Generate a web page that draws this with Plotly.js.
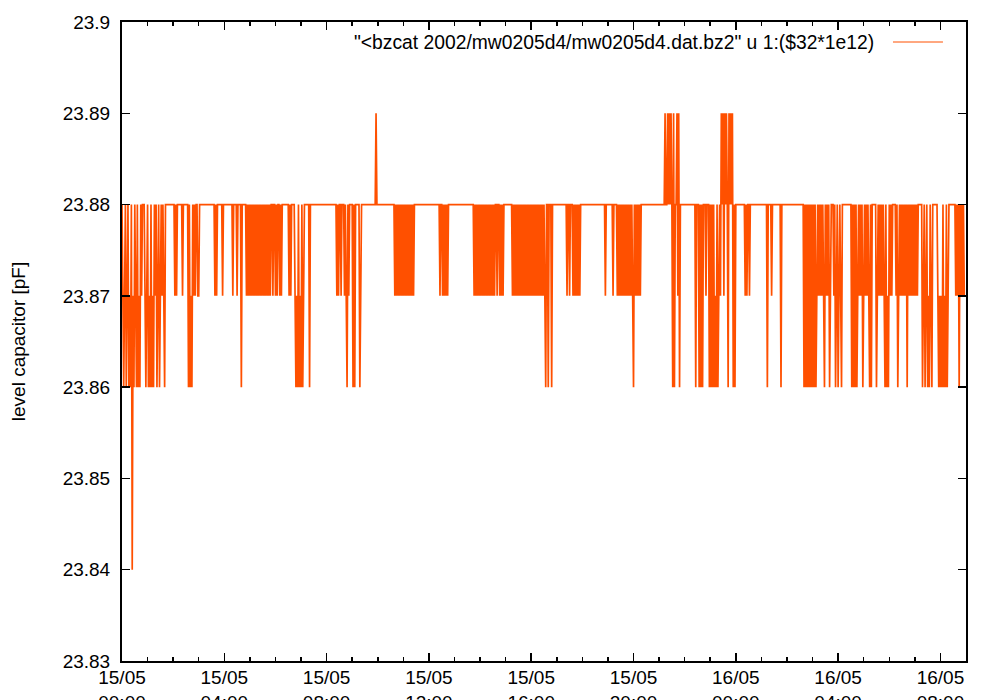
<!DOCTYPE html>
<html><head><meta charset="utf-8">
<script src="https://cdn.plot.ly/plotly-3.0.1.min.js"></script>
<style>html,body{margin:0;padding:0;background:#fff}#chart{width:1000px;height:700px}</style>
</head><body><div id="chart"></div>
<script>
// sampling grid of the recorded series (one code per 2-minute sample)
const startUTC = Date.UTC(2002, 4, 15, 0, 0);
const sampleMinutes = 2;
// value codes: 4 = 23.84, 6 = 23.86, 7 = 23.87, 8 = 23.88, 9 = 23.89
const codeValues = {'4': 23.84, '6': 23.86, '7': 23.87, '8': 23.88, '9': 23.89};
// one string per hour (30 samples each)
const hourSamples = [
  "8767867867" + "6847687686" + "7687888767", // 15/05 00h
  "8676867687" + "8678678787" + "6888888888", // 01h
  "8878788888" + "8788888868" + "6768787887", // 02h
  "7888888888" + "8888888887" + "8788888878", // 03h
  "8888888888" + "7888878888" + "6888887878", // 04h
  "7878787878" + "7878787878" + "7878788788", // 05h
  "7878878788" + "8888887878" + "8887676867", // 06h
  "6867888888" + "6888888888" + "8888888888", // 07h
  "8888888888" + "8878788788" + "8787687888", // 08h
  "8686888886" + "7888888888" + "8888888898", // 09h
  "8888888888" + "8888888888" + "7878787878", // 10h
  "7878787878" + "7878888888" + "8888888888", // 11h
  "8888888888" + "8887887878" + "7878888888", // 12h
  "8888888888" + "8888888888" + "8887878787", // 13h
  "8787878787" + "8787878788" + "7887878788", // 14h
  "8888888878" + "7878787878" + "7878787878", // 15h
  "7878787878" + "7878787688" + "6888688888", // 16h
  "8888888888" + "8878878887" + "8787878788", // 17h
  "8888888888" + "8888888888" + "8888888788", // 18h
  "8888887888" + "8787878787" + "8787878787", // 19h
  "6878787878" + "8888888888" + "8888888888", // 20h
  "8888888988" + "9898986968" + "8979688888", // 21h
  "8888888888" + "8886888686" + "8688878886", // 22h
  "8686867686" + "7879897989" + "8698989686", // 23h
  "8888888888" + "8787887888" + "8888888888", // 16/05 00h
  "8888888688" + "8878888888" + "8886888888", // 01h
  "8888888888" + "8888888888" + "6868686868", // 02h
  "6868678787" + "8787687878" + "6788878678", // 03h
  "6787688888" + "8888886868" + "6867878786", // 04h
  "7878787686" + "8888867878" + "7878768676", // 05h
  "8787888878" + "6787878787" + "8687878787", // 06h
  "8787888886" + "7867867687" + "6888888767", // 07h
  "6768676867" + "8888888878" + "7868787877"  // 08h
];
const xRange = ['2002-05-15 00:00', '2002-05-16 09:00'];
const xTickVals = ['2002-05-15 00:00', '2002-05-15 04:00', '2002-05-15 08:00', '2002-05-15 12:00',
                   '2002-05-15 16:00', '2002-05-15 20:00', '2002-05-16 00:00', '2002-05-16 04:00',
                   '2002-05-16 08:00'];
const xTickText = ['15/05<br>00:00', '15/05<br>04:00', '15/05<br>08:00', '15/05<br>12:00',
                   '15/05<br>16:00', '15/05<br>20:00', '16/05<br>00:00', '16/05<br>04:00',
                   '16/05<br>08:00'];
const yTickVals = [23.83, 23.84, 23.85, 23.86, 23.87, 23.88, 23.89, 23.9];
const yTickText = ['23.83', '23.84', '23.85', '23.86', '23.87', '23.88', '23.89', '23.9'];
const seriesName = '"&lt;bzcat 2002/mw0205d4/mw0205d4.dat.bz2" u 1:($32*1e12)';
const yTitle = 'level capacitor [pF]';
const lineColor = '#ff5000';

function sampleTime(index) {
  const d = new Date(startUTC + index * sampleMinutes * 60000);
  return d.toISOString().slice(0, 16).replace('T', ' ');
}

const xs = [], ys = [];
hourSamples.forEach(function (hourStr, h) {
  for (let i = 0; i < hourStr.length; i++) {
    xs.push(sampleTime(h * hourStr.length + i));
    ys.push(codeValues[hourStr[i]]);
  }
});

const font = {family: '"Liberation Sans", Arial, Helvetica, sans-serif', size: 19, color: '#000'};

const trace = {
  x: xs, y: ys, type: 'scatter', mode: 'lines',
  line: {color: lineColor, width: 1.7, shape: 'linear', simplify: false},
  showlegend: false, hoverinfo: 'skip'
};

const layout = {
  width: 1000, height: 700,
  margin: {l: 122, r: 34, t: 22, b: 39, pad: 0},
  paper_bgcolor: '#fff', plot_bgcolor: '#fff',
  font: font,
  showlegend: false,
  xaxis: {
    type: 'date', range: xRange,
    tickmode: 'array', tickvals: xTickVals, ticktext: xTickText,
    ticks: 'inside', ticklen: 8, tickwidth: 1.5, tickcolor: '#000',
    minor: {ticks: 'inside', ticklen: 4, tickwidth: 1.5, tickcolor: '#000', dtick: 3600000, tick0: '2002-05-15 00:00', showgrid: false},
    showline: true, linewidth: 2, linecolor: '#000', mirror: 'allticks',
    showgrid: false, zeroline: false,
    tickfont: font, ticklabelstandoff: -2
  },
  yaxis: {
    range: [23.83, 23.9],
    tickmode: 'array', tickvals: yTickVals, ticktext: yTickText,
    ticks: 'inside', ticklen: 8, tickwidth: 1.5, tickcolor: '#000',
    showline: true, linewidth: 2, linecolor: '#000', mirror: 'allticks',
    showgrid: false, zeroline: false,
    tickfont: font, ticklabelstandoff: 6,
    title: {text: yTitle, font: font, standoff: 32}
  },
  annotations: [{
    xref: 'paper', yref: 'paper', x: 0.8934, y: 0.9687,
    xanchor: 'right', yanchor: 'middle', showarrow: false,
    text: seriesName, font: Object.assign({}, font, {size: 19.3})
  }],
  shapes: [{
    type: 'line', xref: 'paper', yref: 'paper',
    x0: 0.9135, x1: 0.9727, y0: 0.9687, y1: 0.9687,
    line: {color: lineColor, width: 1}
  }]
};

Plotly.newPlot('chart', [trace], layout, {displayModeBar: false, staticPlot: true});
</script>
</body></html>
